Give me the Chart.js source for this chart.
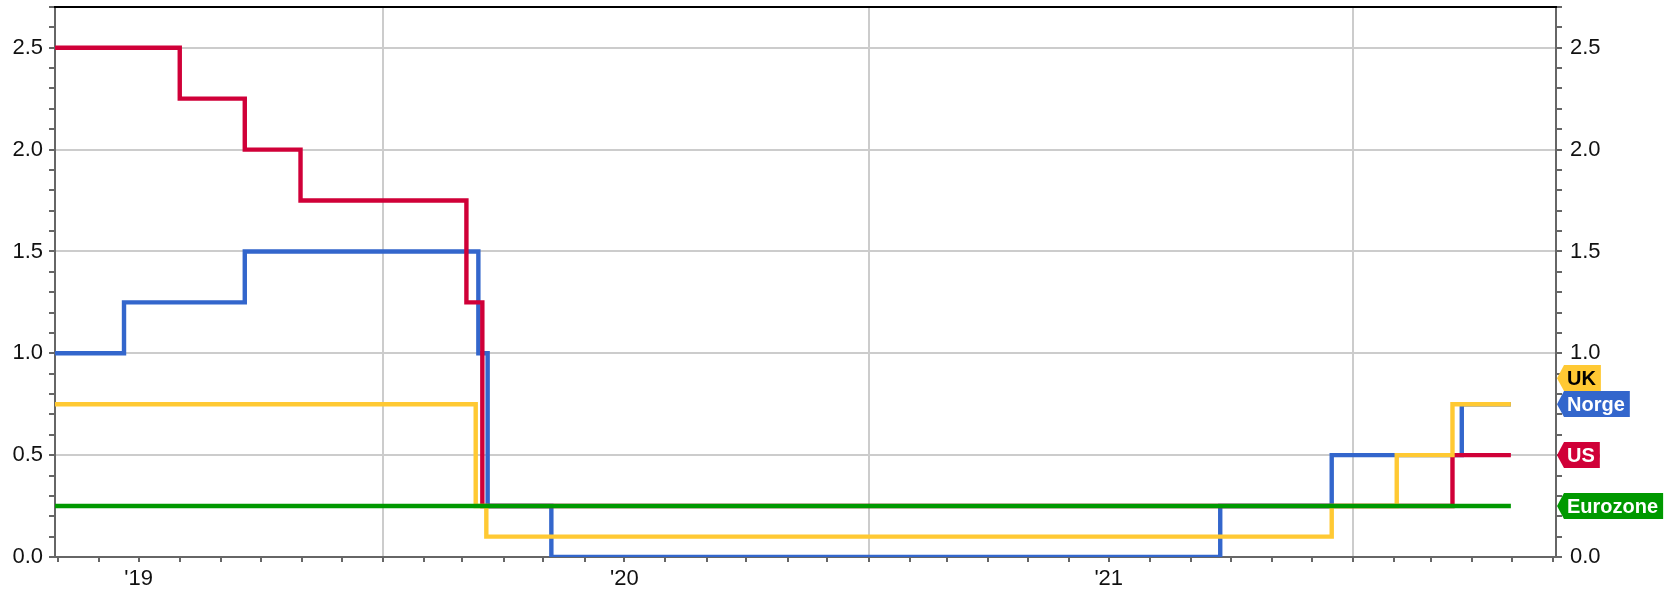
<!DOCTYPE html>
<html>
<head>
<meta charset="utf-8">
<script src="https://cdn.jsdelivr.net/npm/chart.js@4/dist/chart.umd.min.js"></script>
<style>
  html, body { margin: 0; padding: 0; background: #fff; }
  #wrap { width: 1675px; height: 592px; position: relative; }
</style>
</head>
<body>
<div id="wrap"><canvas id="c" width="1675" height="592"></canvas></div>
<script>
// Policy rates (%), step changes by effective date
const norgeDates = ['2019-04-29', '2019-06-20', '2019-09-19', '2020-03-13', '2020-03-20', '2020-05-07', '2021-09-23', '2021-12-16', '2022-03-24', '2022-04-30'];
const norgeRates = [1.0, 1.25, 1.5, 1.0, 0.25, 0.0, 0.25, 0.5, 0.75, 0.75];

const usDates = ['2019-04-29', '2019-08-01', '2019-09-19', '2019-10-31', '2020-03-04', '2020-03-16', '2022-03-17', '2022-04-30'];
const usRates = [2.5, 2.25, 2.0, 1.75, 1.25, 0.25, 0.5, 0.5];

const ukDates = ['2019-04-29', '2020-03-11', '2020-03-19', '2021-12-16', '2022-02-03', '2022-03-17', '2022-04-30'];
const ukRates = [0.75, 0.25, 0.1, 0.25, 0.5, 0.75, 0.75];

const euroDates = ['2019-04-29', '2022-04-30'];
const euroRates = [0.25, 0.25];

const xStart = '2019-04-29';
const xEnd = '2022-06-03';
const yMax = 2.7;

const FONT = "'Liberation Sans', Arial, sans-serif";

function toDay(s) {
  return Date.UTC(+s.slice(0, 4), +s.slice(5, 7) - 1, +s.slice(8, 10)) / 864e5;
}
function points(dates, rates) {
  return dates.map((d, i) => ({ x: toDay(d), y: rates[i] }));
}
function dayInfo(v) {
  const dt = new Date(v * 864e5);
  return { y: dt.getUTCFullYear(), m: dt.getUTCMonth(), d: dt.getUTCDate() };
}
function isHalf(v) {
  return Math.abs(v * 2 - Math.round(v * 2)) < 1e-6;
}

const series = [
  { label: 'Eurozone', data: points(euroDates, euroRates), color: '#009900', text: '#ffffff' },
  { label: 'UK', data: points(ukDates, ukRates), color: '#ffc933', text: '#000000' },
  { label: 'US', data: points(usDates, usRates), color: '#d00038', text: '#ffffff' },
  { label: 'Norge', data: points(norgeDates, norgeRates), color: '#3366cc', text: '#ffffff' }
];

// Order of tags when values tie: earlier entries sit higher
const tagPriority = ['UK', 'Norge', 'US', 'Eurozone'];

const topBorder = {
  id: 'topBorder',
  afterDraw(chart) {
    const { ctx, chartArea } = chart;
    ctx.save();
    ctx.strokeStyle = '#000';
    ctx.lineWidth = 2;
    ctx.beginPath();
    ctx.moveTo(chartArea.left - 1, chartArea.top);
    ctx.lineTo(chartArea.right + 1, chartArea.top);
    ctx.stroke();
    ctx.restore();
  }
};

const endTags = {
  id: 'endTags',
  afterDraw(chart) {
    const { ctx, chartArea } = chart;
    const yScale = chart.scales.y;
    const h = 26;
    const tags = chart.data.datasets.map(ds => {
      const last = ds.data[ds.data.length - 1];
      return { label: ds.label, color: ds.borderColor, text: ds.tagText, y: yScale.getPixelForValue(last.y) };
    });
    tags.sort((a, b) => (b.y - a.y) || (tagPriority.indexOf(b.label) - tagPriority.indexOf(a.label)));
    let prev = Infinity;
    tags.forEach(t => {
      t.cy = Math.min(t.y, prev - h);
      prev = t.cy;
    });
    ctx.save();
    ctx.font = 'bold 20px ' + FONT;
    ctx.textBaseline = 'middle';
    const x0 = chartArea.right + 1;
    tags.forEach(t => {
      const w = ctx.measureText(t.label).width;
      const top = Math.round(t.cy - h / 2), bot = top + h;
      const right = x0 + 10 + w + 5;
      ctx.fillStyle = t.color;
      ctx.beginPath();
      ctx.moveTo(x0, t.cy);
      ctx.lineTo(x0 + 7, top);
      ctx.lineTo(right, top);
      ctx.lineTo(right, bot);
      ctx.lineTo(x0 + 7, bot);
      ctx.closePath();
      ctx.fill();
      ctx.fillStyle = t.text;
      ctx.fillText(t.label, x0 + 10, t.cy + 1);
    });
    ctx.restore();
  }
};

const yTicks = {
  min: 0, max: yMax, stepSize: 0.1, autoSkip: false,
  color: '#111', font: { family: FONT, size: 22 },
  callback: v => isHalf(v) ? v.toFixed(1) : ''
};

new Chart(document.getElementById('c'), {
  type: 'line',
  data: {
    datasets: series.map(s => ({
      label: s.label,
      data: s.data,
      borderColor: s.color,
      backgroundColor: s.color,
      tagText: s.text,
      borderWidth: 4.4,
      pointRadius: 0,
      stepped: 'before',
      fill: false
    }))
  },
  options: {
    responsive: false,
    animation: false,
    events: [],
    layout: { padding: { top: 7, left: 0, right: 0, bottom: 0 } },
    plugins: { legend: { display: false }, tooltip: { enabled: false } },
    scales: {
      x: {
        type: 'linear',
        min: toDay(xStart),
        max: toDay(xEnd),
        afterBuildTicks(scale) {
          const ticks = [];
          const a = dayInfo(scale.min);
          let y = a.y, m = a.m + 1;
          while (true) {
            if (m > 11) { m = 0; y++; }
            const v = Date.UTC(y, m, 1) / 864e5;
            if (v > scale.max) break;
            ticks.push({ value: v });
            m++;
          }
          scale.ticks = ticks;
        },
        afterFit(scale) {
          scale.height = 35;
          scale.paddingLeft = 0;
          scale.paddingRight = 0;
        },
        ticks: {
          autoSkip: false, maxRotation: 0, minRotation: 0, padding: 4,
          color: '#111', font: { family: FONT, size: 22 },
          callback: v => {
            const i = dayInfo(v);
            return i.m === 6 ? "'" + String(i.y).slice(2) : '';
          }
        },
        grid: {
          color: c => (c.tick && dayInfo(c.tick.value).m === 0) ? '#cccccc' : 'rgba(0,0,0,0)',
          tickColor: '#666666',
          lineWidth: 2,
          tickLength: 5
        },
        border: { color: '#666666', width: 2 }
      },
      y: {
        position: 'left',
        min: 0, max: yMax,
        afterFit(scale) {
          scale.width = 55;
          scale.paddingTop = 0;
          scale.paddingBottom = 0;
        },
        ticks: Object.assign({ padding: 6 }, yTicks),
        grid: {
          color: c => (c.tick && isHalf(c.tick.value)) ? '#cccccc' : 'rgba(0,0,0,0)',
          tickColor: '#666666',
          lineWidth: 2,
          tickLength: 6
        },
        border: { color: '#666666', width: 2 }
      },
      y2: {
        position: 'right',
        min: 0, max: yMax,
        afterFit(scale) {
          scale.width = 119;
          scale.paddingTop = 0;
          scale.paddingBottom = 0;
        },
        ticks: Object.assign({ padding: 8 }, yTicks),
        grid: {
          drawOnChartArea: false,
          tickColor: '#666666',
          lineWidth: 2,
          tickLength: 6
        },
        border: { color: '#666666', width: 2 }
      }
    }
  },
  plugins: [topBorder, endTags]
});
</script>
</body>
</html>
